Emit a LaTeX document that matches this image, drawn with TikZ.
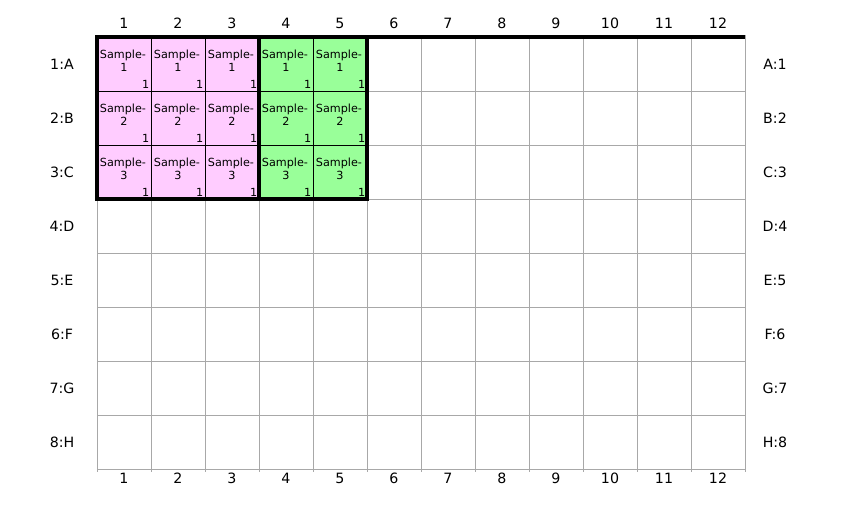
\documentclass[tikz,border=0pt]{standalone}
\usepackage{fontspec}
\setmainfont{DejaVu Sans}
\definecolor{pinkc}{HTML}{FFCCFF}
\definecolor{greenc}{HTML}{99FF99}
\definecolor{gridc}{HTML}{A8A8A8}
\begin{document}
\begin{tikzpicture}[x=1pt,y=-1pt,
  lbl/.style={font=\fontsize{14.2}{16}\selectfont, inner sep=0pt, anchor=base},
  stxt/.style={font=\fontsize{11.2}{12}\selectfont, inner sep=0pt, anchor=base},
  gridline/.style={draw=gridc, line width=1pt},
  cellline/.style={draw=black, line width=0.9pt},
  grpline/.style={draw=black, line width=3.6pt}]
\useasboundingbox (0,0) rectangle (843,525);
% fills
\fill[pinkc] (97,37) rectangle (259,199);
\fill[greenc] (259,37) rectangle (367,199);
% grid
\foreach \i in {0,...,12} {
  \draw[gridline] ({97+54*\i},35) -- ({97+54*\i},471.5);
}
\foreach \j in {1,...,8} {
  \draw[gridline] (97,{37+54*\j}) -- (745,{37+54*\j});
}
% inner cell lines of groups
\foreach \x in {151,205,313} {
  \draw[cellline] (\x,37) -- (\x,199);
}
\foreach \y in {91,145} {
  \draw[cellline] (97,\y) -- (367,\y);
}
% thick borders
\draw[grpline] (97,37) -- (745,37);
\draw[grpline] (97,37) rectangle (259,199);
\draw[grpline] (259,37) rectangle (367,199);
% cell texts
\foreach \c in {1,...,5} {
  \foreach \r in {1,2,3} {
    \node[stxt] (s\c\r) at ({97+54*\c-28},{37+54*(\r-1)+21.3}) {Sample-};
    \node[stxt] (n\c\r) at ({97+54*\c-27},{37+54*(\r-1)+34.5}) {\r};
    \node[stxt, anchor=base east] (k\c\r) at ({97+54*\c-1.5},{37+54*(\r-1)+51.5}) {1};
  }
}
% column labels
\foreach \i in {1,...,12} {
  \node[lbl] (t\i) at ({97+54*\i-27},28) {\i};
  \node[lbl] (b\i) at ({97+54*\i-27},483) {\i};
}
% row labels
\foreach \l [count=\j] in {A,B,C,D,E,F,G,H} {
  \node[lbl] (l\j) at (62,{37+54*\j-27+5.2}) {\j:\l};
  \node[lbl] (r\j) at (775,{37+54*\j-27+5.2}) {\l:\j};
}
\end{tikzpicture}
\end{document}
